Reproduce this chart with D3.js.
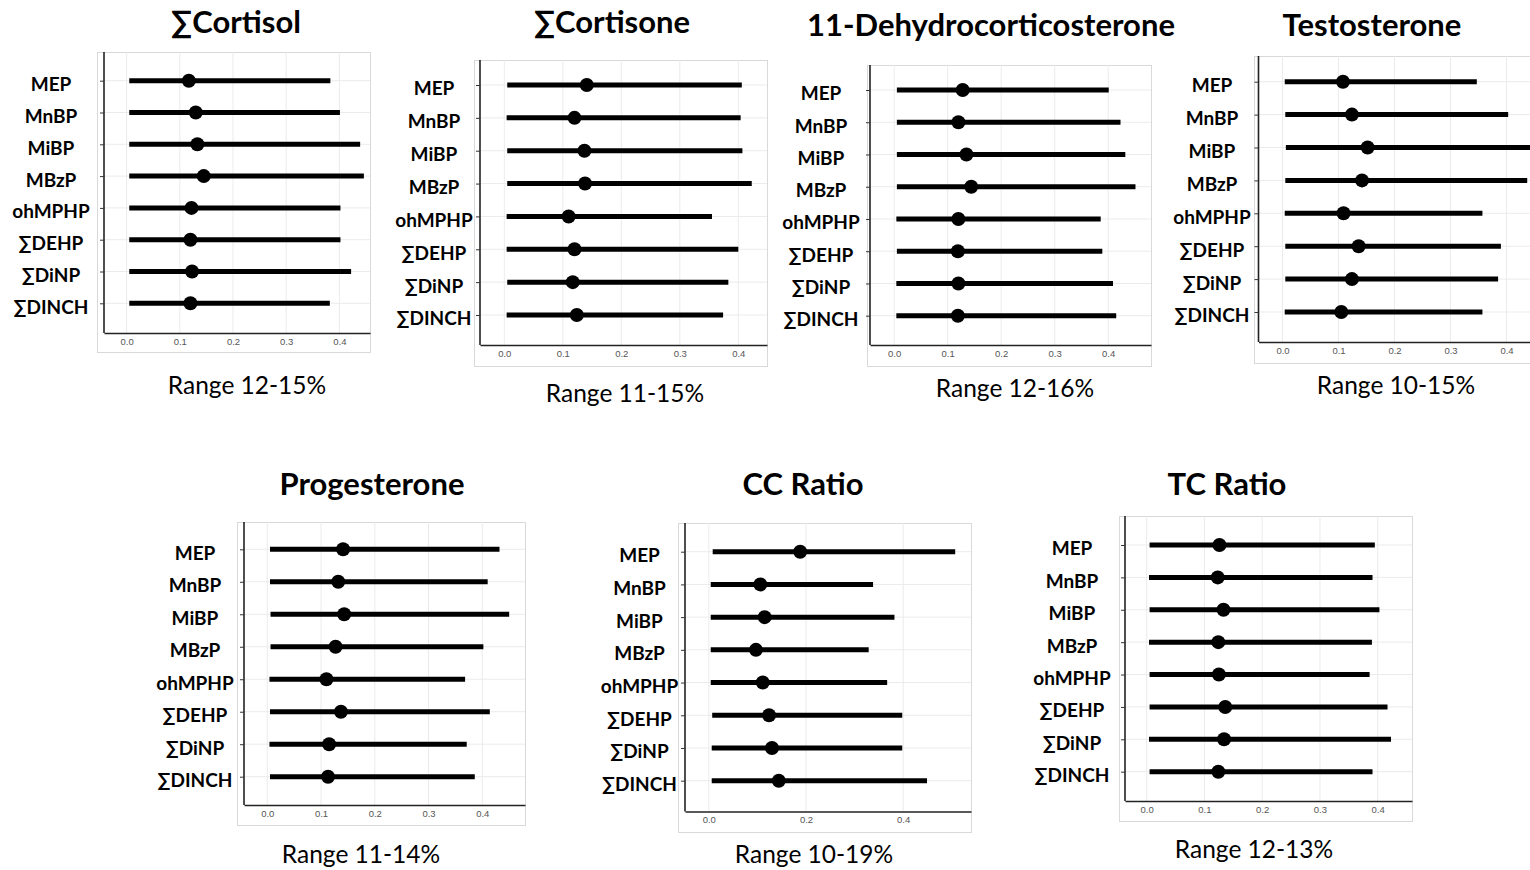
<!DOCTYPE html>
<html>
<head>
<meta charset="utf-8">
<script src="https://cdn.jsdelivr.net/npm/d3@7"></script>
<style>
  body { margin: 0; background: #fff; }
  svg { display: block; }
  .title { font-family: Lato, "Open Sans", sans-serif; font-weight: 700; font-size: 31px; fill: #000; }
  .range { font-family: Lato, "Open Sans", sans-serif; font-size: 24.5px; fill: #000; }
  .rowlab { font-family: Lato, "Open Sans", sans-serif; font-weight: 700; font-size: 19px; fill: #000; }
  .ticklab { font-family: "Liberation Sans", Arial, sans-serif; font-size: 9.5px; fill: #555; }
</style>
</head>
<body>
<div id="chart"></div>
<script>
var width = 1530,
    height = 870;

// row categories (same for every panel)
var exposures = ["MEP", "MnBP", "MiBP", "MBzP", "ohMPHP", "∑DEHP", "∑DiNP", "∑DINCH"];

// estimate / lower / upper per outcome
var cortisolEst = [0.117, 0.130, 0.133, 0.145, 0.122, 0.120, 0.123, 0.120];
var cortisolLo  = [0.005, 0.005, 0.005, 0.005, 0.005, 0.005, 0.005, 0.005];
var cortisolHi  = [0.383, 0.401, 0.439, 0.446, 0.402, 0.402, 0.422, 0.382];

var cortisoneEst = [0.141, 0.120, 0.137, 0.138, 0.110, 0.120, 0.117, 0.124];
var cortisoneLo  = [0.005, 0.004, 0.005, 0.005, 0.004, 0.004, 0.005, 0.004];
var cortisoneHi  = [0.406, 0.404, 0.407, 0.423, 0.355, 0.400, 0.383, 0.374];

var dehydroEst = [0.128, 0.120, 0.135, 0.144, 0.120, 0.119, 0.120, 0.119];
var dehydroLo  = [0.005, 0.005, 0.005, 0.005, 0.004, 0.005, 0.004, 0.004];
var dehydroHi  = [0.401, 0.423, 0.432, 0.451, 0.386, 0.389, 0.409, 0.415];

var testoEst = [0.108, 0.124, 0.152, 0.142, 0.109, 0.136, 0.124, 0.105];
var testoLo  = [0.004, 0.005, 0.006, 0.005, 0.004, 0.005, 0.005, 0.004];
var testoHi  = [0.347, 0.403, 0.450, 0.437, 0.357, 0.390, 0.385, 0.357];

var progEst = [0.141, 0.132, 0.143, 0.127, 0.110, 0.137, 0.115, 0.113];
var progLo  = [0.005, 0.005, 0.006, 0.006, 0.004, 0.005, 0.004, 0.005];
var progHi  = [0.432, 0.410, 0.450, 0.402, 0.368, 0.414, 0.371, 0.386];

var ccEst = [0.188, 0.106, 0.115, 0.097, 0.111, 0.124, 0.130, 0.144];
var ccLo  = [0.008, 0.004, 0.004, 0.004, 0.004, 0.007, 0.006, 0.006];
var ccHi  = [0.507, 0.338, 0.382, 0.329, 0.367, 0.398, 0.398, 0.449];

var tcEst = [0.126, 0.123, 0.133, 0.124, 0.125, 0.136, 0.134, 0.124];
var tcLo  = [0.005, 0.004, 0.005, 0.004, 0.005, 0.005, 0.004, 0.005];
var tcHi  = [0.395, 0.391, 0.403, 0.390, 0.386, 0.417, 0.423, 0.391];

var titles = ["∑Cortisol", "∑Cortisone", "11-Dehydrocorticosterone", "Testosterone",
              "Progesterone", "CC Ratio", "TC Ratio"];
var rangeLabels = ["Range 12-15%", "Range 11-15%", "Range 12-16%", "Range 10-15%",
                   "Range 11-14%", "Range 10-19%", "Range 12-13%"];
var tickSteps = [0.1, 0.1, 0.1, 0.1, 0.1, 0.2, 0.1];

var series = [
  [cortisolEst, cortisolLo, cortisolHi],
  [cortisoneEst, cortisoneLo, cortisoneHi],
  [dehydroEst, dehydroLo, dehydroHi],
  [testoEst, testoLo, testoHi],
  [progEst, progLo, progHi],
  [ccEst, ccLo, ccHi],
  [tcEst, tcLo, tcHi]
];

// panel placement (frame box, axis origin, where 0 sits, px per unit, first/last row)
var layout = [
  {l: 97,   t: 52,  r: 370,  b: 352, ax: 104,  ay: 333,   zero: 126.6,  ppu: 532, r0: 80.7,  r1: 303.3, lx: 51,   tx: 236,  ty: 22,  rx: 247,  ry: 385},
  {l: 474,  t: 60,  r: 767,  b: 366, ax: 480,  ay: 345,   zero: 504.3,  ppu: 585, r0: 85,    r1: 315,   lx: 434,  tx: 612,  ty: 22,  rx: 625,  ry: 393},
  {l: 867,  t: 65,  r: 1151, b: 366, ax: 870,  ay: 345,   zero: 894.2,  ppu: 535, r0: 90,    r1: 315.7, lx: 821,  tx: 991,  ty: 25,  rx: 1015, ry: 388},
  {l: 1254, t: 56,  r: 1545, b: 363, ax: 1258.5, ay: 342, zero: 1282.5, ppu: 560, r0: 81.7,  r1: 312,   lx: 1212, tx: 1372, ty: 25,  rx: 1396, ry: 385},
  {l: 237,  t: 522, r: 525,  b: 825, ax: 244,  ay: 805,   zero: 267.3,  ppu: 537.5, r0: 549.3, r1: 776.7, lx: 195, tx: 372, ty: 484, rx: 361,  ry: 854},
  {l: 678,  t: 523, r: 971,  b: 832, ax: 685,  ay: 811.5, zero: 708.8,  ppu: 486, r0: 551.7, r1: 780.7, lx: 639.5, tx: 803, ty: 484, rx: 814,  ry: 854},
  {l: 1119, t: 516, r: 1412, b: 821, ax: 1125, ay: 801,   zero: 1146.7, ppu: 577.5, r0: 545, r1: 771.7, lx: 1072, tx: 1227, ty: 484, rx: 1254, ry: 849}
];

var svg = d3.select("#chart").append("svg")
    .attr("width", width)
    .attr("height", height);

layout.forEach(function(p, i) {
  var est = series[i][0], lo = series[i][1], hi = series[i][2];
  var rows = exposures.map(function(e, j) { return {name: e, est: est[j], lo: lo[j], hi: hi[j]}; });

  var right = Math.min(p.r, width);
  var x = d3.scaleLinear()
      .domain([(p.ax - p.zero) / p.ppu, (p.r - p.zero) / p.ppu])
      .range([p.ax, p.r]);
  var y = d3.scalePoint()
      .domain(exposures)
      .range([p.r0, p.r1]);

  var g = svg.append("g");

  // light frame around the plot image
  g.append("rect")
      .attr("x", p.l + 0.5).attr("y", p.t + 0.5)
      .attr("width", p.r - p.l).attr("height", p.b - p.t)
      .attr("fill", "#fff")
      .attr("stroke", "#d9d9d9");

  var ticks = d3.range(0, x.domain()[1] + 1e-9, tickSteps[i]);

  // grid
  g.append("g").selectAll("line.v")
      .data(ticks)
    .enter().append("line")
      .attr("x1", function(d) { return x(d); }).attr("x2", function(d) { return x(d); })
      .attr("y1", p.t).attr("y2", p.ay)
      .attr("stroke", "#ebebeb");
  g.append("g").selectAll("line.h")
      .data(exposures)
    .enter().append("line")
      .attr("x1", p.ax).attr("x2", right)
      .attr("y1", function(d) { return y(d); }).attr("y2", function(d) { return y(d); })
      .attr("stroke", "#ebebeb");

  // x axis
  var xAxis = d3.axisBottom(x)
      .tickValues(ticks)
      .tickFormat(d3.format(".1f"))
      .tickSize(0)
      .tickPadding(5);
  var xg = g.append("g")
      .attr("transform", "translate(0," + p.ay + ")")
      .call(xAxis);
  xg.select(".domain").attr("stroke", "#222").attr("stroke-width", 1.6);
  xg.selectAll("text").attr("class", "ticklab").attr("fill", null);

  // y axis with centred labels
  var yAxis = d3.axisLeft(y).tickSize(4).tickFormat("");
  var yg = g.append("g")
      .attr("transform", "translate(" + p.ax + ",0)")
      .call(yAxis);
  yg.select(".domain").attr("d", "M0," + p.t + "V" + p.ay).attr("stroke", "#222").attr("stroke-width", 1.6);
  yg.selectAll(".tick line").attr("stroke", "#333");

  g.append("g").selectAll("text")
      .data(exposures)
    .enter().append("text")
      .attr("class", "rowlab")
      .attr("x", p.lx)
      .attr("y", function(d) { return y(d); })
      .attr("dy", "0.55em")
      .attr("text-anchor", "middle")
      .text(function(d) { return d; });

  // intervals and estimates
  g.append("g").selectAll("line")
      .data(rows)
    .enter().append("line")
      .attr("x1", function(d) { return x(d.lo); })
      .attr("x2", function(d) { return x(d.hi); })
      .attr("y1", function(d) { return y(d.name); })
      .attr("y2", function(d) { return y(d.name); })
      .attr("stroke", "#000")
      .attr("stroke-width", 5);

  g.append("g").selectAll("circle")
      .data(rows)
    .enter().append("circle")
      .attr("cx", function(d) { return x(d.est); })
      .attr("cy", function(d) { return y(d.name); })
      .attr("r", 7)
      .attr("fill", "#000");

  svg.append("text")
      .attr("class", "title")
      .attr("x", p.tx).attr("y", p.ty)
      .attr("dy", "0.35em")
      .attr("text-anchor", "middle")
      .text(titles[i]);

  svg.append("text")
      .attr("class", "range")
      .attr("x", p.rx).attr("y", p.ry)
      .attr("dy", "0.35em")
      .attr("text-anchor", "middle")
      .text(rangeLabels[i]);
});
</script>
</body>
</html>
